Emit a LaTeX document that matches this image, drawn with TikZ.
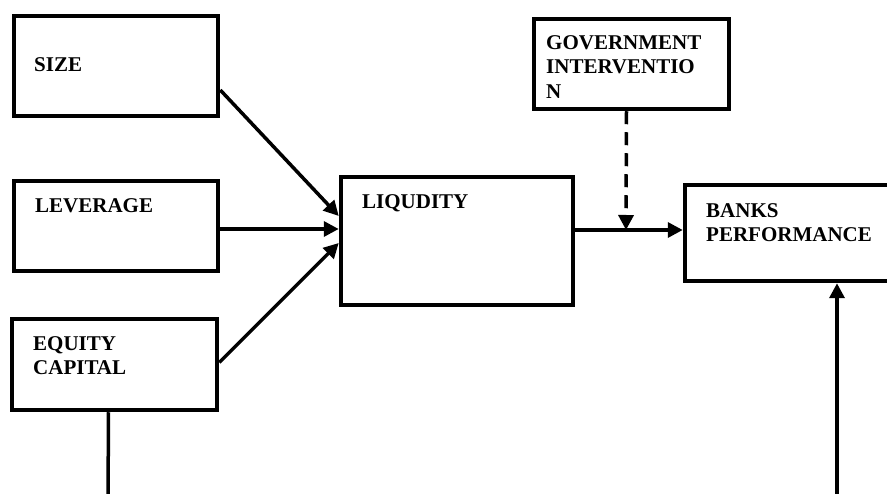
\documentclass[tikz,border=0pt]{standalone}
\usepackage{fontspec}
\setmainfont{Liberation Serif}
\usetikzlibrary{arrows.meta}

\begin{document}
\begin{tikzpicture}[x=1pt,y=-1pt,
  box/.style={draw,line width=4.5pt,inner sep=0pt,outer sep=2.25pt},
  txt/.style={anchor=north west,inner sep=0pt,align=left,font=\fontsize{21}{24.5}\selectfont\bfseries},
  arr/.style={line width=3.5pt,-{Triangle[length=15pt,width=15pt]}}]
\clip (0,0) rectangle (887,494);
% boxes
\node[box,minimum width=204pt,minimum height=100pt] (size) at (116,66) {};
\node[box,minimum width=204pt,minimum height=90pt] (lev) at (116,226) {};
\node[box,minimum width=205pt,minimum height=91pt] (eq) at (114.5,364.5) {};
\node[box,minimum width=232pt,minimum height=128pt] (liq) at (457,241) {};
\node[box,minimum width=195pt,minimum height=90pt] (gov) at (631.5,64) {};
\node[box,minimum width=215pt,minimum height=96pt] (banks) at (792.5,233) {};
% labels
\node[txt] (sizetxt) at (34,57) {SIZE};
\node[txt] (levtxt) at (35,198) {LEVERAGE};
\node[txt] (eqtxt) at (33,336) {EQUITY\\CAPITAL};
\node[txt] (liqtxt) at (362,194) {LIQUDITY};
\node[txt] (govtxt) at (546,35) {GOVERNMENT\\INTERVENTIO\\N};
\node[txt] (bankstxt) at (706,203) {BANKS\\PERFORMANCE};
% connectors
\coordinate (join) at (626,230);
\coordinate (eqend) at (108,500);
\coordinate (bpin) at (837,500);
\draw[arr] ([yshift=-24pt]size.east) -- ([yshift=25pt]liq.west);
\draw[arr] ([yshift=-3pt]lev.east) -- ([yshift=12pt]liq.west);
\draw[arr] ([yshift=2pt]eq.east) -- ([yshift=-2pt]liq.west);
\draw[arr] ([yshift=11pt]liq.east) -- ([yshift=3pt]banks.west);
\draw[arr,dash pattern=on 13pt off 8pt] ([xshift=-5pt]gov.south) -- (join);
\draw[line width=3.5pt] ([xshift=-6pt]eq.south) -- (eqend);
\draw[arr] (bpin) -- (bpin |- banks.south);
\end{tikzpicture}
\end{document}
